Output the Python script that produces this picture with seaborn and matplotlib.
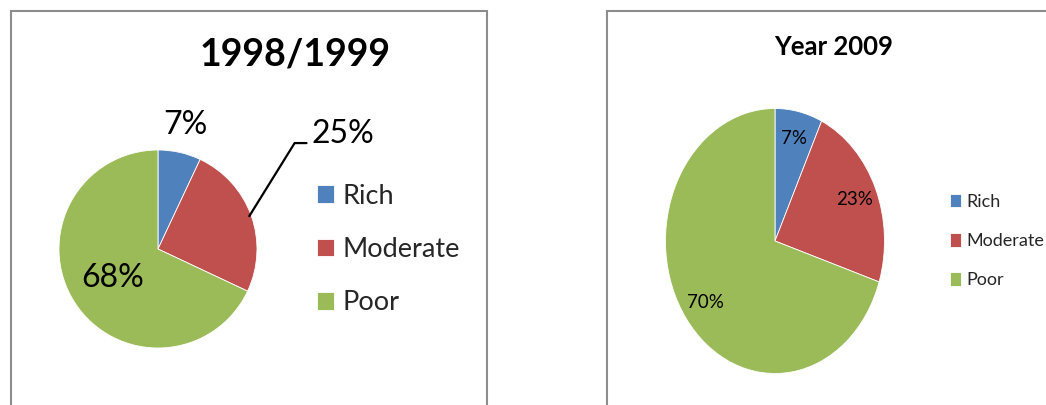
import numpy as np
import matplotlib
matplotlib.use("Agg")
import matplotlib.pyplot as plt
from matplotlib.patches import Rectangle
import seaborn as sns

# ---- data ----
categories = ["Rich", "Moderate", "Poor"]
values_1998 = [7, 25, 68]
values_2009 = [7, 23, 70]
title_1998 = "1998/1999"
title_2009 = "Year 2009"
colors = ["#4F81BD", "#C0504D", "#9BBB59"]

sns.set_theme(style="white")
plt.rcParams["font.family"] = ["Lato", "DejaVu Sans"]

W, H = 1046, 405
fig = plt.figure(figsize=(W / 100, H / 100), dpi=100)
fig.patch.set_facecolor("white")


def fx(px):
    return px / W


def fy(py):
    return (H - py) / H


# panel borders
for x0, x1 in [(11, 487), (607, 1060)]:
    fig.add_artist(Rectangle((fx(x0), fy(430)), fx(x1) - fx(x0), fy(11) - fy(430),
                             transform=fig.transFigure, fill=False,
                             edgecolor="#8c8c8c", linewidth=1.5))


def pie_axes(cx, cy, rx, ry):
    ax = fig.add_axes([fx(cx - rx), fy(cy + ry), 2 * rx / W, 2 * ry / H])
    return ax


def mid_angle(w):
    return np.deg2rad((w.theta1 + w.theta2) / 2)


# ---- left pie ----
axL = pie_axes(158, 249, 99, 99)
wedgesL, _ = axL.pie(values_1998, colors=colors, startangle=90, counterclock=False,
                     wedgeprops=dict(linewidth=0.6, edgecolor="white"))
axL.set_aspect("auto")
axL.set_xlim(-1, 1)
axL.set_ylim(-1, 1)
axL.axis("off")

# Rich label outside
a = mid_angle(wedgesL[0])
axL.text(1.28 * np.cos(a), 1.28 * np.sin(a), f"{values_1998[0]}%", ha="center", va="center",
         fontsize=23, color="black")
# Moderate with leader line
a = mid_angle(wedgesL[1])
p0 = (0.98 * np.cos(a), 0.98 * np.sin(a))
axL.plot([p0[0], 1.38, 1.50], [p0[1], 1.07, 1.07], color="black", lw=1.6, clip_on=False)
axL.text(1.555, 1.07, f"{values_1998[1]}%", ha="left", va="baseline", fontsize=23, color="black")
# Poor label inside
a = mid_angle(wedgesL[2])
axL.text(0.54 * np.cos(a), 0.54 * np.sin(a), f"{values_1998[2]}%", ha="center", va="center",
         fontsize=23, color="black")

fig.text(fx(295), fy(55), title_1998, ha="center", va="center", fontsize=27,
         fontweight="bold", color="black")

fig.legend(wedgesL, categories, loc="center left", bbox_to_anchor=(fx(317), fy(249.5)),
           frameon=False, fontsize=19.5, handlelength=0.63, handleheight=0.63,
           handletextpad=0.3, labelspacing=1.04, borderpad=0, borderaxespad=0)

# ---- right pie (elliptical) ----
axR = pie_axes(775, 241, 109.5, 132.5)
wedgesR, _, autos = axR.pie(values_2009, colors=colors, startangle=90, counterclock=False,
                            autopct="%1.0f%%", pctdistance=0.79,
                            textprops=dict(fontsize=13.5, color="black"),
                            wedgeprops=dict(linewidth=0.6, edgecolor="white"))
axR.set_aspect("auto")
axR.set_xlim(-1, 1)
axR.set_ylim(-1, 1)
axR.axis("off")

fig.text(fx(834), fy(47), title_2009, ha="center", va="center", fontsize=18.5,
         fontweight="bold", color="black")

fig.legend(wedgesR, categories, loc="center left", bbox_to_anchor=(fx(950), fy(241)),
           frameon=False, fontsize=13, handlelength=0.6, handleheight=0.78,
           handletextpad=0.3, labelspacing=1.28, borderpad=0, borderaxespad=0)

fig.savefig("out.png", dpi=100, facecolor="white")
